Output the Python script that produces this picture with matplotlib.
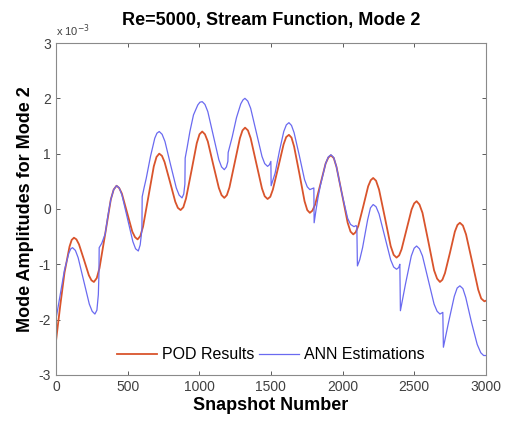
import numpy as np
import matplotlib
matplotlib.use("Agg")
import matplotlib.pyplot as plt

plt.rcParams["font.family"] = ["Liberation Sans", "DejaVu Sans"]
plt.rcParams["axes.unicode_minus"] = False

# mode amplitudes, in units of 1e-3
pod_snap = [0, 30, 60, 95, 110, 126,
            143, 161, 196, 230, 248, 265,
            285, 304, 344, 383, 403, 423,
            441, 460, 497, 533, 552, 570,
            589, 608, 646, 683, 702, 721,
            740, 758, 796, 833, 851, 870,
            889, 908, 946, 983, 1002, 1021,
            1040, 1060, 1098, 1137, 1156, 1175,
            1193, 1211, 1248, 1284, 1302, 1320,
            1340, 1359, 1398, 1438, 1457, 1477,
            1496, 1514, 1552, 1589, 1607, 1626,
            1644, 1662, 1699, 1735, 1754, 1772,
            1790, 1809, 1846, 1882, 1901, 1919,
            1939, 1958, 1997, 2036, 2056, 2075,
            2092, 2110, 2145, 2179, 2197, 2214,
            2234, 2255, 2296, 2336, 2357, 2377,
            2395, 2412, 2447, 2482, 2500, 2517,
            2537, 2558, 2599, 2639, 2660, 2680,
            2697, 2715, 2750, 2784, 2802, 2819,
            2840, 2862, 2905, 2947, 2968, 2990, 3000]
pod_vals = [-2.40, -1.75, -1.15, -0.68, -0.56, -0.52,
            -0.55, -0.64, -0.92, -1.20, -1.29, -1.32,
            -1.25, -1.07, -0.45, 0.17, 0.35, 0.42,
            0.38, 0.28, -0.07, -0.41, -0.51, -0.55,
            -0.49, -0.32, 0.23, 0.77, 0.94, 1.00,
            0.96, 0.85, 0.49, 0.13, 0.02, -0.02,
            0.03, 0.19, 0.69, 1.19, 1.35, 1.40,
            1.35, 1.22, 0.80, 0.38, 0.25, 0.20,
            0.25, 0.39, 0.84, 1.28, 1.42, 1.47,
            1.42, 1.28, 0.83, 0.37, 0.23, 0.18,
            0.22, 0.35, 0.76, 1.17, 1.30, 1.34,
            1.29, 1.13, 0.64, 0.14, -0.02, -0.07,
            -0.03, 0.08, 0.45, 0.82, 0.93, 0.97,
            0.92, 0.76, 0.26, -0.25, -0.41, -0.46,
            -0.42, -0.31, 0.05, 0.41, 0.52, 0.56,
            0.51, 0.35, -0.16, -0.67, -0.83, -0.88,
            -0.84, -0.73, -0.37, -0.01, 0.10, 0.14,
            0.08, -0.07, -0.59, -1.11, -1.26, -1.32,
            -1.28, -1.16, -0.79, -0.41, -0.29, -0.25,
            -0.30, -0.46, -0.96, -1.46, -1.62, -1.67, -1.66]

ann_snap = [0, 30, 60, 90, 104, 116,
            136, 155, 194, 233, 253, 272,
            286, 296, 300, 302, 320, 344, 363, 383, 403, 423,
            442, 461, 499, 537, 556, 575,
            588, 600, 602, 615, 630, 660, 690, 705, 721,
            741, 761, 800, 840, 860, 880,
            892, 900, 902, 915, 935, 960, 990, 1005, 1021,
            1040, 1060, 1098, 1137, 1156, 1175,
            1190, 1200, 1202, 1230, 1260, 1290, 1305, 1319,
            1339, 1359, 1398, 1438, 1457, 1477,
            1490, 1500, 1502, 1530, 1560, 1590, 1608, 1626,
            1644, 1662, 1699, 1735, 1754, 1772,
            1790, 1800, 1802, 1815, 1830, 1846, 1882, 1901, 1919,
            1939, 1958, 1997, 2036, 2056, 2080, 2095, 2100,
            2104, 2120, 2140, 2175, 2195, 2214,
            2234, 2255, 2296, 2336, 2357, 2377, 2392, 2400,
            2404, 2420, 2440, 2480, 2500, 2517,
            2537, 2558, 2599, 2639, 2660, 2680, 2693, 2700,
            2704, 2720, 2740, 2780, 2800, 2819,
            2840, 2860, 2900, 2940, 2965, 2985, 3000]
ann_vals = [-2.00, -1.55, -1.10, -0.80, -0.72, -0.70,
            -0.75, -0.88, -1.30, -1.72, -1.85, -1.90,
            -1.83, -1.55, -1.20, -0.70, -0.62, -0.45, -0.12, 0.17, 0.35, 0.42,
            0.38, 0.25, -0.17, -0.59, -0.72, -0.76,
            -0.65, -0.38, 0.22, 0.38, 0.55, 0.95, 1.28, 1.37, 1.40,
            1.35, 1.22, 0.80, 0.38, 0.25, 0.20,
            0.27, 0.45, 0.92, 1.10, 1.40, 1.70, 1.88, 1.93, 1.94,
            1.89, 1.76, 1.33, 0.89, 0.76, 0.71,
            0.76, 0.86, 1.02, 1.30, 1.65, 1.90, 1.97, 2.00,
            1.95, 1.82, 1.39, 0.95, 0.82, 0.77,
            0.80, 0.86, 0.42, 0.65, 1.05, 1.40, 1.52, 1.56,
            1.51, 1.38, 0.96, 0.53, 0.40, 0.35,
            0.37, 0.38, -0.25, -0.02, 0.22, 0.43, 0.82, 0.94, 0.98,
            0.93, 0.76, 0.26, -0.17, -0.28, -0.32, -0.30, -0.33,
            -1.03, -0.92, -0.70, -0.20, 0.02, 0.08,
            0.04, -0.09, -0.51, -0.92, -1.05, -1.09, -1.06, -1.00,
            -1.84, -1.62, -1.35, -0.85, -0.71, -0.67,
            -0.72, -0.85, -1.29, -1.72, -1.85, -1.90, -1.88, -1.87,
            -2.50, -2.30, -2.05, -1.58, -1.43, -1.39,
            -1.44, -1.60, -2.05, -2.45, -2.60, -2.65, -2.65]

fig = plt.figure(figsize=(5.13, 4.26), dpi=100)
ax = fig.add_axes([0.109, 0.120, 0.838, 0.779])

ax.plot(pod_snap, pod_vals, color="#D9542C", linewidth=1.3,
        solid_joinstyle="round", label="POD Results")
ax.plot(ann_snap, ann_vals, color="#6A6AF0", linewidth=0.9,
        solid_joinstyle="round", label="ANN Estimations")

ax.set_xlim(0, 3000)
ax.set_ylim(-3, 3)
ax.set_xticks([0, 500, 1000, 1500, 2000, 2500, 3000])
ax.set_yticks([-3, -2, -1, 0, 1, 2, 3])
ax.tick_params(direction="in", top=True, right=True, labelsize=10,
               colors="#404040", length=3, width=0.6)
for s in ax.spines.values():
    s.set_color("#8a8a8a")
    s.set_linewidth(0.8)

ax.set_title("Re=5000, Stream Function, Mode 2", fontsize=13,
             fontweight="bold", pad=13)
ax.set_xlabel("Snapshot Number", fontsize=13, fontweight="bold", labelpad=2)
ax.set_ylabel("Mode Amplitudes for Mode 2", fontsize=13, fontweight="bold",
              labelpad=3)
ax.text(0.0, 1.012, r"x 10$^{-3}$", transform=ax.transAxes, fontsize=8,
        color="#404040", ha="left", va="bottom")

ax.legend(loc="center", ncol=2, frameon=False, fontsize=11.5,
          handlelength=2.5, handletextpad=0.3, columnspacing=0.3,
          bbox_to_anchor=(0.5, 0.06))

fig.savefig("out.png", dpi=100, facecolor="white")
